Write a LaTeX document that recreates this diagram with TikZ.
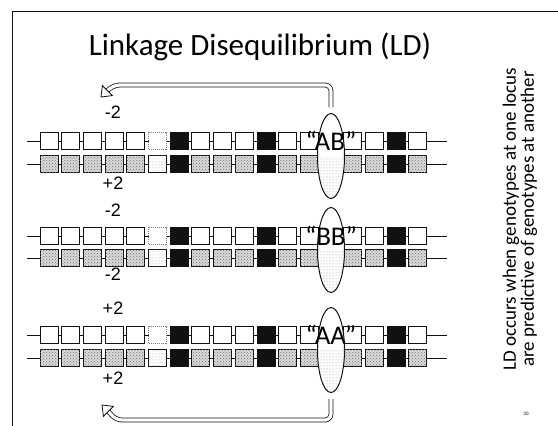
\documentclass[tikz,border=0pt]{standalone}
\usepackage{fontspec}
\setmainfont{Carlito}
\newfontfamily\arialfont{Liberation Sans}
\usetikzlibrary{patterns,shapes.geometric}
\definecolor{ldInk}{HTML}{111111}
\definecolor{ldStipple}{HTML}{DADADA}

\tikzset{
  locus/.style={draw=ldInk,line width=1pt,minimum width=18pt,minimum height=17pt,
                inner sep=0pt,fill=white},
  blank/.style={locus},
  faint/.style={locus,draw=ldInk!55,densely dotted},
  dark/.style={locus,fill=ldInk},
  speck/.style={locus,fill=ldStipple,postaction={pattern=crosshatch dots,pattern color=ldInk!60}},
  pale/.style={locus,postaction={pattern=dots,pattern color=ldInk!40}},
  strand/.style={draw=ldInk,line width=1pt},
  lens/.style={ellipse,draw=ldInk,line width=1pt,fill=white,minimum width=27pt,
               minimum height=85pt,inner sep=0pt,
               path picture={\fill[pattern=dots,pattern color=ldInk!45]
                 (path picture bounding box.west) rectangle (path picture bounding box.south east);}},
  geno/.style={font=\fontsize{27}{27}\selectfont,inner sep=0pt},
  tag/.style={font=\arialfont\fontsize{18}{18}\selectfont,inner sep=0pt},
  hollow/.style={draw=ldInk,double=white,double distance=3.2pt,line width=0.8pt,
                 rounded corners=6pt},
  head/.style={draw=ldInk,line width=0.8pt,fill=white,line join=miter},
}

\begin{document}
\begin{tikzpicture}[x=1pt,y=-1pt]
  \useasboundingbox (0,0) rectangle (558,426);
  \coordinate (fr0) at (558,11);
  \coordinate (fr1) at (12,11);
  \coordinate (fr2) at (12,426);
  \draw[ldInk,line width=1pt] (fr0) -- (fr1) -- (fr2);

  \node[font=\fontsize{31}{31}\selectfont,anchor=base] (title) at (260,55) {Linkage Disequilibrium (LD)};

  % three pairs of chromosomes, same loci, different genotype at the marked locus
  \foreach \r/\yt/\yb/\ye/\yu/\yd/\up/\dn/\gt in
      {1/141/164/156/112/183/{-2}/{+2}/AB,
       2/236/258/250/210/274/{-2}/{-2}/BB,
       3/335/358/350/308/378/{+2}/{+2}/AA}{
    \coordinate (s\r tl) at (27,\yt);
    \coordinate (s\r tr) at (447,\yt);
    \coordinate (s\r bl) at (27,\yb);
    \coordinate (s\r br) at (447,\yb);
    \draw[strand] (s\r tl) -- (s\r tr);
    \draw[strand] (s\r bl) -- (s\r br);
    \foreach \k/\ta/\ba in {0/blank/speck,1/blank/speck,2/blank/speck,3/blank/speck,
        4/blank/speck,5/faint/pale,6/dark/dark,7/blank/speck,8/blank/speck,
        9/blank/speck,10/dark/dark,11/blank/speck,12/blank/speck,14/blank/speck,
        15/blank/speck,16/dark/dark,17/blank/speck}{
      \node[\ta] (r\r t\k) at (49+21.7*\k,\yt) {};
      \node[\ba] (r\r b\k) at (49+21.7*\k,\yb) {};
    }
    \node[lens] (e\r) at (331,\ye) {};
    \node[geno] (g\r) at (331,\yt) {``\gt''};
    \node[tag] (u\r) at (113,\yu) {\up};
    \node[tag] (d\r) at (113,\yd) {\dn};
  }

  % hollow bent arrows back to the -2/+2 side
  \coordinate (tb) at (114,85);
  \coordinate (tm) at (107.4,90.6);
  \coordinate (tt) at (101,97);
  \coordinate (tl) at (112.4,95.6);
  \coordinate (tr) at (102.4,85.6);
  \draw[hollow] ([yshift=6pt]e1.north) |- (tb) -- (tm);
  \draw[head] (tt) -- (tl) -- (tr) -- cycle;
  \coordinate (bb) at (116,420);
  \coordinate (bm) at (108.4,411.4);
  \coordinate (bt) at (102,405);
  \coordinate (bl) at (113.4,406.4);
  \coordinate (br) at (103.4,416.4);
  \draw[hollow] ([yshift=-6pt]e3.south) |- (bb) -- (bm);
  \draw[head] (bt) -- (bl) -- (br) -- cycle;

  \node[rotate=90,align=center,font=\fontsize{19}{18}\selectfont] (note) at (520,219)
    {LD occurs when genotypes at one locus\\are predictive of genotypes at another};
  \node[font=\fontsize{5}{5}\selectfont] (pg) at (526,414) {30};
\end{tikzpicture}
\end{document}
